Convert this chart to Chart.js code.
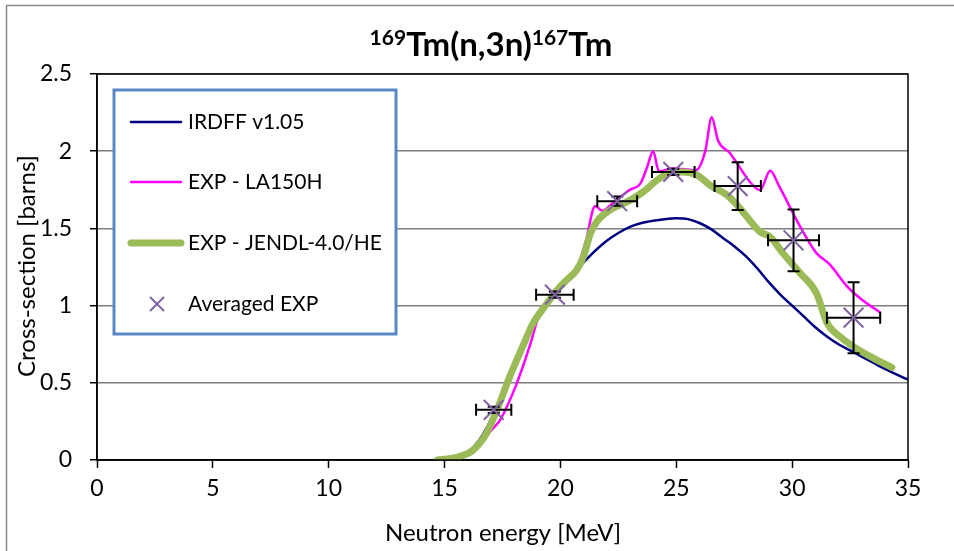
<!DOCTYPE html>
<html>
<head>
<meta charset="utf-8">
<script src="https://cdn.jsdelivr.net/npm/chart.js@4/dist/chart.umd.min.js"></script>
<style>
  html, body { margin: 0; padding: 0; background: #ffffff; }
  #wrap { width: 954px; height: 551px; position: relative; }
</style>
</head>
<body>
<div id="wrap"><canvas id="chart"></canvas></div>
<script>
// IRDFF v1.05 evaluated cross-section
const irdffEnergy = [15.0, 15.5, 16.0, 16.5, 17.0, 17.5, 18.0, 18.5, 19.0, 19.5, 20.0, 20.5, 21.0, 21.5, 22.0, 22.5, 23.0, 23.5, 24.0, 24.5, 25.0, 25.5, 26.0, 26.5, 27.0, 27.5, 28.0, 28.5, 29.0, 29.5, 30.0, 30.5, 31.0, 31.5, 32.0, 32.5, 33.0, 33.5, 34.0, 34.5, 35.0];
const irdffXs = [0.0, 0.01, 0.05, 0.13, 0.26, 0.43, 0.61, 0.77, 0.91, 1.03, 1.12, 1.205, 1.28, 1.355, 1.42, 1.47, 1.51, 1.535, 1.55, 1.56, 1.565, 1.56, 1.535, 1.495, 1.44, 1.385, 1.32, 1.24, 1.15, 1.07, 1.0, 0.93, 0.86, 0.80, 0.75, 0.71, 0.67, 0.63, 0.59, 0.555, 0.52];

// LA150H library
const la150Energy = [15.0, 15.5, 16.0, 16.5, 17.0, 17.4, 18.1, 18.7, 19.1, 19.6, 20.2, 20.7, 21.1, 21.5, 21.8, 22.3, 23.0, 23.45, 23.75, 24.0, 24.25, 24.85, 25.85, 26.25, 26.53, 26.8, 27.3, 28.3, 28.62, 29.05, 29.45, 30.35, 31.05, 31.6, 32.4, 33.0, 33.8];
const la150Xs = [0.0, 0.01, 0.04, 0.1, 0.19, 0.26, 0.49, 0.75, 0.95, 1.06, 1.16, 1.24, 1.42, 1.645, 1.615, 1.67, 1.75, 1.79, 1.9, 2.0, 1.87, 1.888, 1.877, 2.0, 2.22, 2.07, 1.99, 1.78, 1.748, 1.873, 1.77, 1.51, 1.34, 1.27, 1.12, 1.04, 0.955];

// JENDL-4.0/HE library
const jendlEnergy = [14.7, 15.3, 15.7, 16.2, 16.8, 17.25, 17.8, 18.4, 18.8, 19.4, 19.85, 20.3, 20.7, 21.0, 21.3, 21.6, 22.15, 22.85, 23.6, 24.15, 24.7, 25.3, 25.9, 26.45, 27.2, 27.75, 28.6, 29.05, 29.6, 30.35, 31.05, 31.5, 32.1, 32.8, 33.5, 34.3];
const jendlXs = [0.0, 0.01, 0.025, 0.06, 0.17, 0.32, 0.535, 0.745, 0.88, 1.01, 1.10, 1.17, 1.23, 1.32, 1.47, 1.55, 1.62, 1.67, 1.74, 1.81, 1.86, 1.866, 1.845, 1.78, 1.715, 1.63, 1.48, 1.445, 1.34, 1.21, 1.08, 0.89, 0.795, 0.72, 0.66, 0.60];

// Averaged experimental points with uncertainties
const expEnergy = [17.12, 19.76, 22.45, 24.87, 27.65, 30.06, 32.65];
const expXs = [0.325, 1.071, 1.676, 1.866, 1.774, 1.423, 0.922];
const expEnergyErr = [0.76, 0.81, 0.86, 0.92, 1.0, 1.1, 1.15];
const expXsErr = [0.02, 0.02, 0.03, 0.02, 0.155, 0.2, 0.23];

// Axis ticks
const xTicks = [0, 5, 10, 15, 20, 25, 30, 35];
const yTicks = [0, 0.5, 1, 1.5, 2, 2.5];

const legendLabels = ['IRDFF v1.05', 'EXP - LA150H', 'EXP - JENDL-4.0/HE', 'Averaged EXP'];
const titleParts = [['169', true], ['Tm(n,3n)', false], ['167', true], ['Tm', false]];
const xTitle = 'Neutron energy [MeV]';
const yTitle = 'Cross-section [barns]';

const FONT = 'Lato, "Open Sans", "DejaVu Sans", sans-serif';
const toPoints = (xs, ys) => xs.map((x, i) => ({ x: x, y: ys[i] }));

const COLORS = {
  irdff: '#000080',
  la150: '#ff00ff',
  jendl: '#9bbb59',
  exp: '#8064a2'
};

// Error bars for the averaged points, drawn just before their markers
const errorBars = {
  id: 'errorBars',
  beforeDatasetDraw(chart, args) {
    if (args.index !== 3) return;
    const { ctx, scales: { x, y } } = chart;
    ctx.save();
    ctx.strokeStyle = '#000000';
    ctx.lineWidth = 2;
    const cap = 6;
    expEnergy.forEach((e, i) => {
      const px = x.getPixelForValue(e), py = y.getPixelForValue(expXs[i]);
      const x0 = x.getPixelForValue(e - expEnergyErr[i]);
      const x1 = x.getPixelForValue(e + expEnergyErr[i]);
      const y0 = y.getPixelForValue(expXs[i] - expXsErr[i]);
      const y1 = y.getPixelForValue(expXs[i] + expXsErr[i]);
      ctx.beginPath();
      ctx.moveTo(x0, py); ctx.lineTo(x1, py);
      ctx.moveTo(x0, py - cap); ctx.lineTo(x0, py + cap);
      ctx.moveTo(x1, py - cap); ctx.lineTo(x1, py + cap);
      ctx.moveTo(px, y0); ctx.lineTo(px, y1);
      ctx.moveTo(px - cap, y0); ctx.lineTo(px + cap, y0);
      ctx.moveTo(px - cap, y1); ctx.lineTo(px + cap, y1);
      ctx.stroke();
    });
    ctx.restore();
  }
};

// Frame, title, axis titles and legend box
const decorations = {
  id: 'decorations',
  afterDraw(chart) {
    const { ctx, chartArea: a } = chart;
    ctx.save();

    // outer chart border
    ctx.strokeStyle = '#8a8a8a';
    ctx.lineWidth = 1.5;
    ctx.beginPath();
    ctx.moveTo(6.5, 560); ctx.lineTo(6.5, 5.5); ctx.lineTo(960, 5.5);
    ctx.stroke();

    // plot area frame
    ctx.strokeStyle = '#000000';
    ctx.lineWidth = 1.5;
    ctx.strokeRect(a.left, a.top, a.right - a.left, a.bottom - a.top);

    // title with superscript mass numbers
    const big = 'bold 33px ' + FONT, small = 'bold 21px ' + FONT;
    let total = 0;
    titleParts.forEach(p => { ctx.font = p[1] ? small : big; total += ctx.measureText(p[0]).width; });
    let tx = 491 - total / 2;
    ctx.fillStyle = '#000000';
    ctx.textAlign = 'left';
    ctx.textBaseline = 'alphabetic';
    titleParts.forEach(p => {
      ctx.font = p[1] ? small : big;
      ctx.fillText(p[0], tx, p[1] ? 45 : 56);
      tx += ctx.measureText(p[0]).width;
    });

    // axis titles
    ctx.font = '24px ' + FONT;
    ctx.textAlign = 'center';
    ctx.textBaseline = 'middle';
    ctx.fillText(xTitle, 503, 533);
    ctx.save();
    ctx.translate(27, 266);
    ctx.rotate(-Math.PI / 2);
    ctx.fillText(yTitle, 0, 0);
    ctx.restore();

    // legend
    const L = { x: 114, y: 90, w: 282, h: 244 };
    ctx.fillStyle = '#ffffff';
    ctx.fillRect(L.x, L.y, L.w, L.h);
    ctx.strokeStyle = '#5b87c5';
    ctx.lineWidth = 3;
    ctx.strokeRect(L.x, L.y, L.w, L.h);

    const rows = [122, 182, 243, 304];
    const styles = [
      { c: COLORS.irdff, w: 2.5 },
      { c: COLORS.la150, w: 2.5 },
      { c: COLORS.jendl, w: 7 }
    ];
    ctx.lineCap = 'round';
    styles.forEach((s, i) => {
      ctx.strokeStyle = s.c;
      ctx.lineWidth = s.w;
      ctx.beginPath();
      ctx.moveTo(131, rows[i]); ctx.lineTo(181, rows[i]);
      ctx.stroke();
    });
    ctx.lineCap = 'butt';
    ctx.strokeStyle = COLORS.exp;
    ctx.lineWidth = 2;
    ctx.beginPath();
    ctx.moveTo(150, rows[3] - 7); ctx.lineTo(164, rows[3] + 7);
    ctx.moveTo(150, rows[3] + 7); ctx.lineTo(164, rows[3] - 7);
    ctx.stroke();

    ctx.fillStyle = '#000000';
    ctx.font = '21px ' + FONT;
    ctx.textAlign = 'left';
    ctx.textBaseline = 'middle';
    legendLabels.forEach((t, i) => ctx.fillText(t, 188, rows[i]));

    ctx.restore();
  }
};

new Chart(document.getElementById('chart'), {
  type: 'scatter',
  data: {
    datasets: [
      {
        label: legendLabels[0],
        data: toPoints(irdffEnergy, irdffXs),
        showLine: true,
        borderColor: COLORS.irdff,
        borderWidth: 2.5,
        pointRadius: 0,
        cubicInterpolationMode: 'monotone',
        order: 4
      },
      {
        label: legendLabels[1],
        data: toPoints(la150Energy, la150Xs),
        showLine: true,
        borderColor: COLORS.la150,
        borderWidth: 2.5,
        pointRadius: 0,
        cubicInterpolationMode: 'monotone',
        order: 3
      },
      {
        label: legendLabels[2],
        data: toPoints(jendlEnergy, jendlXs),
        showLine: true,
        borderColor: COLORS.jendl,
        borderWidth: 7,
        borderCapStyle: 'round',
        borderJoinStyle: 'round',
        pointRadius: 0,
        cubicInterpolationMode: 'monotone',
        order: 2
      },
      {
        label: legendLabels[3],
        data: toPoints(expEnergy, expXs),
        showLine: false,
        pointStyle: 'crossRot',
        pointRadius: 14,
        borderColor: COLORS.exp,
        backgroundColor: COLORS.exp,
        pointBorderWidth: 2,
        order: 1
      }
    ]
  },
  options: {
    responsive: true,
    maintainAspectRatio: false,
    animation: false,
    devicePixelRatio: 1,
    layout: { padding: { top: 74, right: 46, left: 0, bottom: 0 } },
    plugins: {
      legend: { display: false },
      tooltip: { enabled: false },
      title: { display: false }
    },
    scales: {
      x: {
        type: 'linear',
        min: 0,
        max: 35,
        afterBuildTicks: s => { s.ticks = xTicks.map(v => ({ value: v })); },
        afterFit: s => { s.height = 91; },
        ticks: {
          color: '#000000',
          font: { family: FONT, size: 23 },
          padding: 7,
          maxRotation: 0,
          autoSkip: false,
          callback: v => String(v)
        },
        grid: {
          drawOnChartArea: false,
          drawTicks: true,
          tickLength: 8,
          tickColor: '#000000',
          tickWidth: 1.5
        },
        border: { color: '#000000', width: 1.5 }
      },
      y: {
        min: 0,
        max: 2.5,
        afterBuildTicks: s => { s.ticks = yTicks.map(v => ({ value: v })); },
        afterFit: s => { s.width = 97; },
        ticks: {
          color: '#000000',
          font: { family: FONT, size: 23 },
          padding: 18,
          autoSkip: false,
          callback: v => String(v)
        },
        grid: {
          color: '#7f7f7f',
          lineWidth: 1.5,
          drawTicks: true,
          tickLength: 7,
          tickColor: '#000000',
          tickWidth: 1.5
        },
        border: { color: '#000000', width: 1.5 }
      }
    }
  },
  plugins: [errorBars, decorations]
});
</script>
</body>
</html>
